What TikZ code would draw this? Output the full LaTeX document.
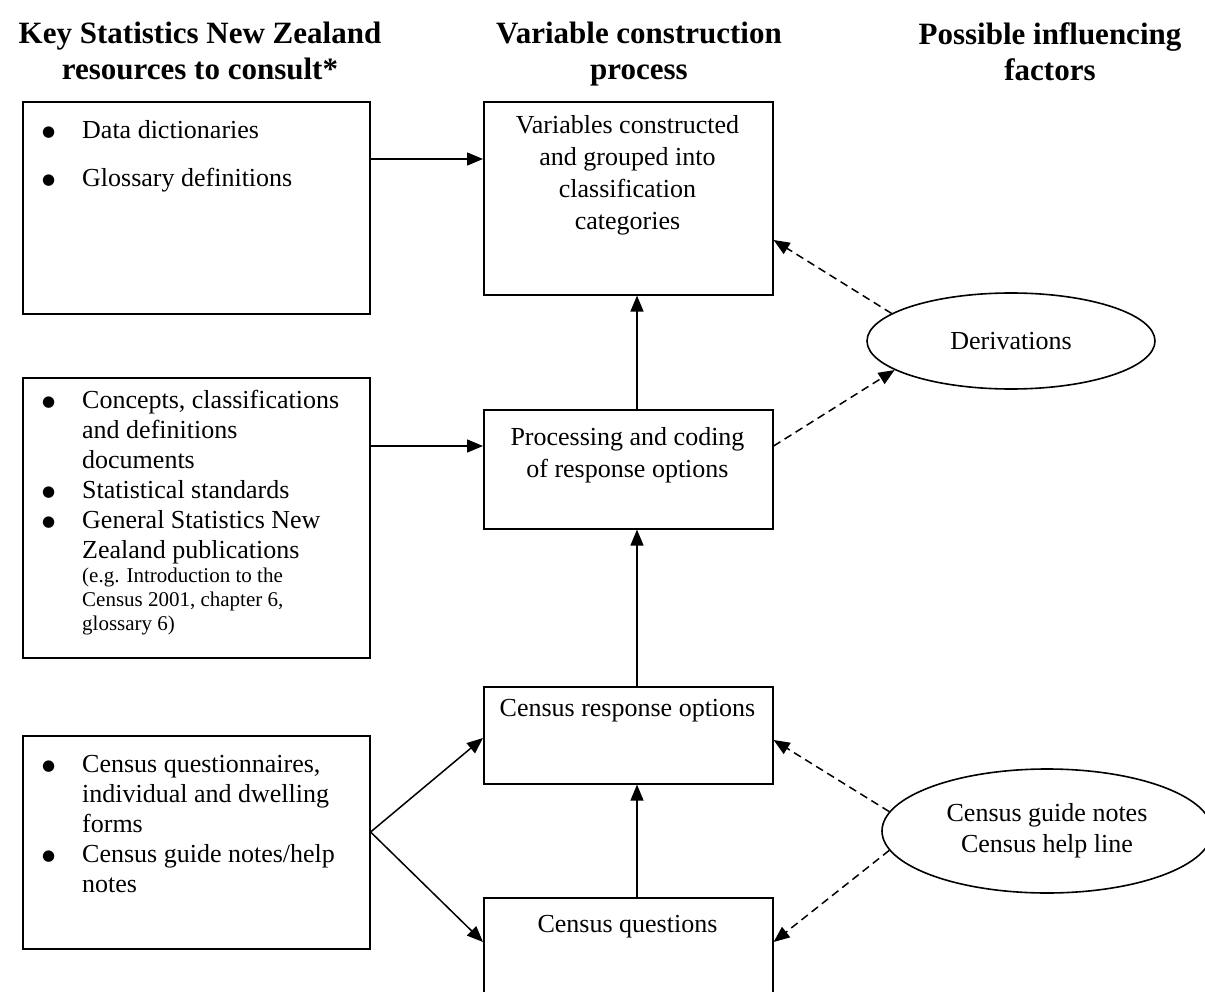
\documentclass[tikz,border=0pt]{standalone}
\usepackage{fontspec}
\setmainfont{Liberation Serif}
\newfontfamily\dotfont{DejaVu Sans}
\usetikzlibrary{arrows.meta,shapes.geometric}

\newcommand\bitem[1]{\makebox[40pt][l]{\raisebox{2pt}{\dotfont\fontsize{15}{15}\selectfont ●}}#1}
\newcommand\bcont[1]{\hspace*{40pt}#1}

\tikzset{
  box/.style={
    draw,
    line width=1.6pt,
    inner sep=0pt,
    anchor=north west,
  },
  oval/.style={
    ellipse,
    draw,
    line width=1.6pt,
    inner sep=0pt,
    align=center,
    font=\fontsize{26}{31}\selectfont,
  },
  heading/.style={
    align=center,
    inner sep=0pt,
    anchor=north,
    font=\bfseries\fontsize{31}{36}\selectfont,
  },
  itemtext/.style={
    text width=325pt,
    align=flush left,
    inner sep=0pt,
    anchor=north west,
    font=\fontsize{26}{30}\selectfont,
  },
  boxtext/.style={
    align=center,
    inner sep=0pt,
    anchor=north,
    font=\fontsize{26}{32}\selectfont,
  },
  flow/.style={
    line width=1.5pt,
    -{Triangle[length=16pt,width=13pt]},
  },
  hint/.style={
    flow,
    dash pattern=on 8pt off 5pt,
  },
}

\begin{document}
\begin{tikzpicture}[x=1pt, y=-1pt]
  \useasboundingbox (0,0) rectangle (1205,992);

  \node[heading](h1) at (200,22) {Key Statistics New Zealand\\resources to consult*};
  \node[heading](h2) at (639,22) {Variable construction\\process};
  \node[heading](h3) at (1050,22) {Possible influencing\\factors};

  % left column
  \node[box, minimum width=347pt, minimum height=212pt](l1) at (22,101) {};
  \node[box, minimum width=347pt, minimum height=280pt](l2) at (22,377) {};
  \node[box, minimum width=347pt, minimum height=213pt](l3) at (22,735) {};

  \node[itemtext](t1) at (42,120) {\bitem{Data dictionaries}\\[18pt]\bitem{Glossary definitions}};
  \node[itemtext](t2) at (42,390) {%
    \bitem{Concepts, classifications}\\
    \bcont{and definitions}\\
    \bcont{documents}\\
    \bitem{Statistical standards}\\
    \bitem{General Statistics New}\\
    \bcont{Zealand publications}\par
    \fontsize{21}{24}\selectfont
    \bcont{(e.g. Introduction to the}\\
    \bcont{Census 2001, chapter 6,}\\
    \bcont{glossary 6)}\par};
  \node[itemtext](t3) at (42,755) {%
    \bitem{Census questionnaires,}\\
    \bcont{individual and dwelling}\\
    \bcont{forms}\\
    \bitem{Census guide notes/help}\\
    \bcont{notes}};

  % middle column
  \node[box, minimum width=289pt, minimum height=193pt](c1) at (483,101) {};
  \node[box, minimum width=289pt, minimum height=119pt](c2) at (483,409) {};
  \node[box, minimum width=289pt, minimum height=97pt](c3) at (483,686) {};
  \node[box, minimum width=289pt, minimum height=130pt](c4) at (483,897) {};

  \node[boxtext](v1) at (627.5,115) {Variables constructed\\and grouped into\\classification\\categories};
  \node[boxtext](v2) at (627.5,427) {Processing and coding\\of response options};
  \node[boxtext](v3) at (627.5,699) {Census response options};
  \node[boxtext](v4) at (627.5,915) {Census questions};

  % right column
  \node[oval, minimum width=288pt, minimum height=96pt](der) at (1011,341) {Derivations};
  \node[oval, minimum width=330pt, minimum height=124pt](gde) at (1047,831) {Census guide notes\\Census help line};

  % connectors
  \draw[flow] (l1.east |- 0,159) -- (c1.west |- 0,159);
  \draw[flow] (l2.east |- 0,446) -- (c2.west |- 0,446);
  \coordinate (fork) at (l3.east |- 0,832);
  \draw[flow] (fork) -- (c3.west |- 0,738);
  \draw[flow] (fork) -- (c4.west |- 0,942);
  \draw[flow] (c4.north -| 637,0) -- (c3.south -| 637,0);
  \draw[flow] (c3.north -| 637,0) -- (c2.south -| 637,0);
  \draw[flow] (c2.north -| 637,0) -- (c1.south -| 637,0);

  \draw[hint] (der.167) -- (c1.east |- 0,240);
  \draw[hint] (c2.east |- 0,446) -- (der.194);
  \draw[hint] (gde.173) -- (c3.east |- 0,740);
  \draw[hint] (gde.187) -- (c4.east |- 0,942);

\end{tikzpicture}
\end{document}
